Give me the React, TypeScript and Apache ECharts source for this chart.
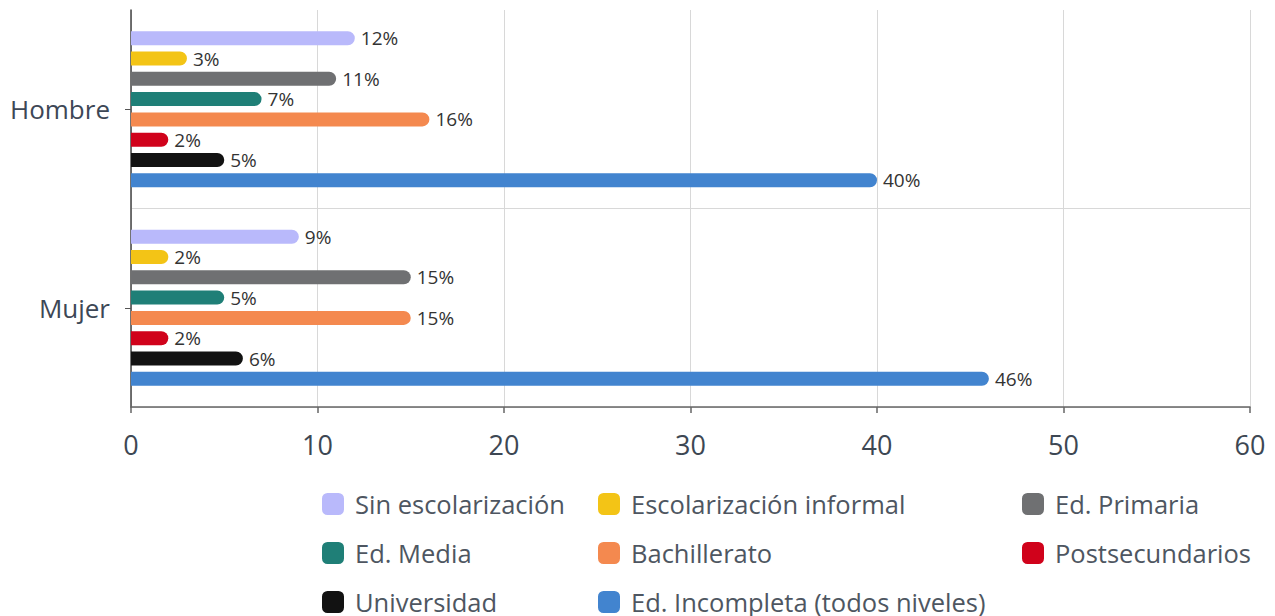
import React, { useEffect, useRef } from "react";
import * as echarts from "echarts";

const categories = ["Hombre", "Mujer"];
const seriesNames = [
  "Sin escolarización",
  "Escolarización informal",
  "Ed. Primaria",
  "Ed. Media",
  "Bachillerato",
  "Postsecundarios",
  "Universidad",
  "Ed. Incompleta (todos niveles)",
];
const sinEscolarizacion = [12, 9];
const escolarizacionInformal = [3, 2];
const edPrimaria = [11, 15];
const edMedia = [7, 5];
const bachillerato = [16, 15];
const postsecundarios = [2, 2];
const universidad = [5, 6];
const edIncompleta = [40, 46];
const seriesValues = [
  sinEscolarizacion,
  escolarizacionInformal,
  edPrimaria,
  edMedia,
  bachillerato,
  postsecundarios,
  universidad,
  edIncompleta,
];
const colors = [
  "#b9b9fb",
  "#f3c416",
  "#6f7072",
  "#1f7f77",
  "#f4894f",
  "#d0021b",
  "#121212",
  "#4284cf",
];
const xTicks = { min: 0, max: 60, interval: 10 };

const legendColumns = [
  [seriesNames[0], seriesNames[3], seriesNames[6]],
  [seriesNames[1], seriesNames[4], seriesNames[7]],
  [seriesNames[2], seriesNames[5]],
];
const legendLefts = [322, 598, 1022];

export default function App() {
  const ref = useRef<HTMLDivElement>(null);
  useEffect(() => {
    if (!ref.current) return;
    const chart = echarts.init(ref.current, undefined, { renderer: "svg" });
    const font = "'Open Sans', Lato, sans-serif";
    chart.setOption({
      animation: false,
      textStyle: { fontFamily: font },
      grid: { left: 131, right: 25, top: 10, bottom: 209 },
      legend: legendColumns.map((col, i) => ({
        orient: "vertical",
        left: legendLefts[i],
        top: 491,
        height: 200,
        padding: 0,
        itemWidth: 22,
        itemHeight: 22,
        itemGap: 23,
        icon: "roundRect",
        data: col,
        textStyle: {
          fontSize: 25.5,
          lineHeight: 22,
          color: "#4e5661",
          fontFamily: font,
          padding: [0, 0, 0, 6],
        },
      })),
      xAxis: {
        type: "value",
        min: xTicks.min,
        max: xTicks.max,
        interval: xTicks.interval,
        axisLine: { show: true, lineStyle: { color: "#666", width: 1.5 } },
        axisTick: { show: true, length: 6, lineStyle: { color: "#666", width: 1.5 } },
        axisLabel: { fontSize: 27, color: "#3d4753", margin: 24, fontFamily: font },
        splitLine: { show: true, lineStyle: { color: "#d8d8d8" } },
      },
      yAxis: {
        type: "category",
        inverse: true,
        data: categories,
        axisLine: { show: true, lineStyle: { color: "#444", width: 1.5 } },
        axisTick: { show: true, alignWithLabel: true, length: 6, lineStyle: { color: "#555" } },
        axisLabel: { fontSize: 26, color: "#3d4756", margin: 21, fontFamily: font },
        splitLine: {
          show: true,
          lineStyle: { color: ["rgba(0,0,0,0)", "#d8d8d8", "#d8d8d8"] },
        },
      },
      series: seriesNames.map((name, i) => ({
        name,
        type: "bar",
        data: seriesValues[i],
        barWidth: 14,
        barGap: "45%",
        itemStyle: { color: colors[i], borderRadius: [0, 7, 7, 0] },
        label: {
          show: true,
          position: "right",
          distance: 6,
          formatter: "{c}%",
          fontSize: 19,
          color: "#333",
          fontFamily: font,
        },
      })),
    });
    return () => chart.dispose();
  }, []);
  return (
    <div
      ref={ref}
      style={{ position: "fixed", left: 0, top: 0, width: 1275, height: 616, background: "#fff" }}
    />
  );
}
